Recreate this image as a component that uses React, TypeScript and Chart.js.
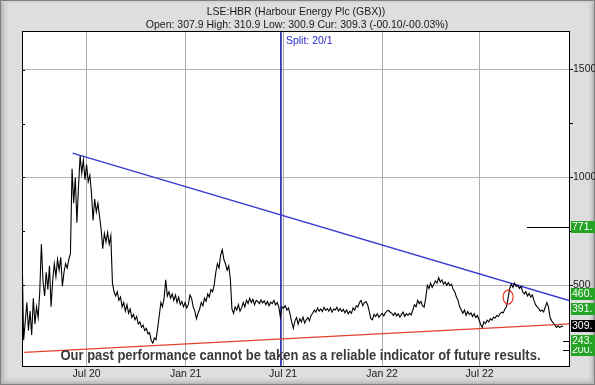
import React, { useEffect, useRef } from 'react';
import { Chart, registerables } from 'chart.js';

Chart.register(...registerables);

const TITLE = 'LSE:HBR (Harbour Energy Plc (GBX))';
const SUBTITLE = 'Open: 307.9 High: 310.9 Low: 300.9 Cur: 309.3 (-00.10/-00.03%)';
const DISCLAIMER = 'Our past performance cannot be taken as a reliable indicator of future results.';

// x axis: days since 2020-01-01
const X_MIN = 62;
const X_MAX = 1080;
const xTickDays = [182, 366, 547, 731, 912];
const xTickLabels = ['Jul 20', 'Jan 21', 'Jul 21', 'Jan 22', 'Jul 22'];

const Y_MIN = 125.6;
const Y_MAX = 1679;
const yLabelTicks = [500, 1000, 1500];
const yMinorTicks = [750, 1250];

// price series, one value every 3 days from priceStartDay
const priceStartDay = 62;
const priceStepDays = 3;
const prices = [
  680, 245, 330, 420, 290, 380, 270, 440, 320, 400,
  350, 470, 690, 520, 450, 560, 480, 590, 400, 520,
  600, 540, 620, 570, 630, 495, 560, 600, 580, 620,
  648, 1040, 880, 1000, 790, 960, 1100, 1020, 1080, 990,
  1060, 980, 1010, 930, 800, 900, 840, 880, 820, 760,
  670, 740, 700, 745, 690, 730, 510, 470, 450, 470,
  430, 445, 400, 420, 380, 410, 370, 390, 350, 365,
  340, 355, 320, 330, 305, 315, 290, 300, 275, 280,
  245, 232, 255, 248, 300, 360, 420, 400, 440, 525,
  450, 470, 440, 460, 430, 455, 420, 445, 410, 425,
  400, 420, 395, 410, 455, 440, 400, 380, 345, 370,
  390, 420, 405, 440, 425, 460, 445, 480, 470, 500,
  560, 600, 580, 640, 665, 620, 600, 570, 590, 530,
  390, 370, 400, 385, 410, 380, 395, 420, 400, 430,
  415, 440, 420, 435, 410, 430, 425, 415, 432, 418,
  428, 410, 425, 405, 422, 415, 430, 408, 420, 400,
  352, 400, 395, 405, 385, 395, 365, 330, 300, 335,
  350, 320, 345, 330, 352, 325, 340, 350, 335, 360,
  370, 385, 375, 395, 380, 390, 378, 398, 384, 392,
  380, 395, 375, 390, 385, 398, 380, 392, 378, 388,
  372, 385, 368, 380, 370, 395, 385, 405, 400, 420,
  430, 405, 420, 425, 410, 380, 345, 340, 365, 355,
  368, 352, 362, 370, 358, 372, 380, 384, 375, 370,
  360, 372, 358, 368, 352, 365, 375, 355, 368, 360,
  370, 362, 385, 410, 400, 430, 415, 425, 405, 398,
  440, 500, 485, 510, 490, 505, 520, 510, 535, 515,
  525, 505, 515, 500, 512, 498, 505, 480, 470, 445,
  430, 400, 385, 370, 385, 360, 378, 365, 372, 355,
  368, 350, 360, 340, 318, 305, 330, 322, 338, 330,
  345, 338, 352, 348, 360, 355, 368, 375, 372, 390,
  400, 440, 485, 505, 490, 510, 495, 500, 485, 495,
  470, 460, 470, 450, 462, 445, 455, 430, 410, 400,
  392, 380, 385, 376, 398, 420, 400, 350, 335, 325,
  315, 305, 312, 304, 311, 309,
];

const blueTrendDays = [156, 1080];
const blueTrendValues = [1113, 428];
const redTrendDays = [66, 1080];
const redTrendValues = [189, 321];

const splitDay = 543;
const splitLabel = 'Split: 20/1';

const circleDay = 965;
const circleValue = 445;

const levelValues = [771, 200, 243, 309, 391, 460];
const levelLabels = ['771.', '200.', '243.', '309.', '391.', '460.'];
const levelFills = ['#24a324', '#24a324', '#24a324', '#000000', '#24a324', '#24a324'];
const levelLineStartDays = [1000, 1067, 1067, null, null, null];

const FONT = '"Liberation Sans", Arial, sans-serif';

const decorPlugin = {
  id: 'decor',
  beforeDraw(chart: any) {
    const { ctx, chartArea: a, width: W, height: H } = chart;
    ctx.save();
    ctx.fillStyle = '#dedede';
    ctx.fillRect(0, 0, W, H);
    let g = ctx.createLinearGradient(0, 0, 10, 0);
    g.addColorStop(0, '#a8a8a8');
    g.addColorStop(1, 'rgba(222,222,222,0)');
    ctx.fillStyle = g;
    ctx.fillRect(0, 0, 10, H);
    g = ctx.createLinearGradient(W - 8, 0, W, 0);
    g.addColorStop(0, 'rgba(222,222,222,0)');
    g.addColorStop(1, '#a0a0a0');
    ctx.fillStyle = g;
    ctx.fillRect(W - 8, 0, 8, H);
    g = ctx.createLinearGradient(0, H - 9, 0, H);
    g.addColorStop(0, 'rgba(222,222,222,0)');
    g.addColorStop(1, '#a8a8a8');
    ctx.fillStyle = g;
    ctx.fillRect(0, H - 9, W, 9);
    g = ctx.createLinearGradient(0, 0, 0, 5);
    g.addColorStop(0, '#c4c4c4');
    g.addColorStop(1, 'rgba(222,222,222,0)');
    ctx.fillStyle = g;
    ctx.fillRect(0, 0, W, 5);
    ctx.strokeStyle = '#808080';
    ctx.lineWidth = 1;
    ctx.strokeRect(0.5, 0.5, W - 1, H - 1);
    ctx.fillStyle = '#ffffff';
    ctx.fillRect(a.left, a.top, a.right - a.left, a.bottom - a.top);
    ctx.restore();
  },
  afterDatasetsDraw(chart: any) {
    const { ctx, scales } = chart;
    const xs = scales.x;
    const ys = scales.y;
    ctx.save();
    ctx.strokeStyle = '#e0352a';
    ctx.lineWidth = 1.2;
    ctx.beginPath();
    ctx.ellipse(xs.getPixelForValue(circleDay), ys.getPixelForValue(circleValue), 5, 7, 0, 0, Math.PI * 2);
    ctx.stroke();
    ctx.fillStyle = '#2a2ac8';
    ctx.font = `10.5px ${FONT}`;
    ctx.textAlign = 'left';
    ctx.textBaseline = 'middle';
    ctx.fillText(splitLabel, xs.getPixelForValue(splitDay) + 5, chart.chartArea.top + 10);
    ctx.restore();
  },
  afterDraw(chart: any) {
    const { ctx, chartArea: a, scales, width: W } = chart;
    const xs = scales.x;
    const ys = scales.y;
    ctx.save();
    ctx.strokeStyle = '#000';
    ctx.lineWidth = 1;
    ctx.strokeRect(a.left + 0.5, a.top + 0.5, a.right - a.left - 1, a.bottom - a.top);
    ctx.beginPath();
    [...yLabelTicks, ...yMinorTicks].forEach((v) => {
      const y = Math.round(ys.getPixelForValue(v)) + 0.5;
      ctx.moveTo(a.left, y);
      ctx.lineTo(a.left + 3, y);
    });
    ctx.stroke();
    levelValues.forEach((v, i) => {
      const y = ys.getPixelForValue(v);
      const sd = levelLineStartDays[i];
      if (sd !== null) {
        ctx.strokeStyle = '#000';
        ctx.beginPath();
        ctx.moveTo(xs.getPixelForValue(sd), Math.round(y) + 0.5);
        ctx.lineTo(a.right, Math.round(y) + 0.5);
        ctx.stroke();
      }
      ctx.fillStyle = levelFills[i];
      ctx.fillRect(a.right + 1, Math.round(y) - 6, W - a.right - 1, 12);
      ctx.fillStyle = '#ffffff';
      ctx.font = `10.5px ${FONT}`;
      ctx.textAlign = 'left';
      ctx.textBaseline = 'middle';
      ctx.fillText(levelLabels[i], a.right + 2, Math.round(y) + 0.5);
    });
    ctx.fillStyle = '#1a1a1a';
    ctx.font = `10.5px ${FONT}`;
    ctx.textAlign = 'center';
    ctx.textBaseline = 'middle';
    ctx.fillText(TITLE, 296, 12);
    ctx.fillText(SUBTITLE, 297, 25);
    ctx.font = `bold 14px ${FONT}`;
    const w = ctx.measureText(DISCLAIMER).width;
    ctx.translate(300.5, 359.5);
    ctx.scale(480 / w, 1);
    ctx.fillStyle = '#3a3a3a';
    ctx.textAlign = 'center';
    ctx.textBaseline = 'alphabetic';
    ctx.fillText(DISCLAIMER, 0, 0);
    ctx.restore();
  },
};

export default function App() {
  const ref = useRef<HTMLCanvasElement | null>(null);
  useEffect(() => {
    if (!ref.current) return;
    const priceData = prices.map((v, i) => ({ x: priceStartDay + i * priceStepDays, y: v }));
    const chart = new Chart(ref.current, {
      type: 'line',
      data: {
        datasets: [
          { data: priceData, borderColor: '#000', borderWidth: 1.1, pointRadius: 0, tension: 0, order: 1 },
          {
            data: blueTrendDays.map((d, i) => ({ x: d, y: blueTrendValues[i] })),
            borderColor: '#3a3ad2',
            borderWidth: 1.3,
            pointRadius: 0,
            order: 2,
          },
          {
            data: redTrendDays.map((d, i) => ({ x: d, y: redTrendValues[i] })),
            borderColor: '#e0402e',
            borderWidth: 1.3,
            pointRadius: 0,
            order: 3,
          },
          {
            data: [
              { x: splitDay, y: Y_MIN },
              { x: splitDay, y: Y_MAX },
            ],
            borderColor: '#1e1ea8',
            borderWidth: 1.6,
            pointRadius: 0,
            order: 4,
          },
        ],
      },
      options: {
        responsive: false,
        animation: false,
        devicePixelRatio: 1,
        layout: { padding: { left: 22, top: 31, right: 0, bottom: 0 } },
        plugins: { legend: { display: false }, tooltip: { enabled: false }, title: { display: false } },
        scales: {
          x: {
            type: 'linear',
            min: X_MIN,
            max: X_MAX,
            afterBuildTicks: (s: any) => {
              s.ticks = xTickDays.map((v) => ({ value: v }));
            },
            afterFit: (s: any) => {
              s.height = 19;
            },
            ticks: {
              autoSkip: false,
              maxRotation: 0,
              padding: 2,
              color: '#1a1a1a',
              font: { size: 10.5, family: FONT },
              callback: (v: any) => {
                const i = xTickDays.indexOf(Number(v));
                return i >= 0 ? xTickLabels[i] : '';
              },
            },
            grid: { color: '#ababab', drawTicks: false, lineWidth: 1 },
            border: { display: false },
          },
          y: {
            type: 'linear',
            position: 'right',
            min: Y_MIN,
            max: Y_MAX,
            afterBuildTicks: (s: any) => {
              s.ticks = [...yLabelTicks, ...yMinorTicks].sort((p, q) => p - q).map((v) => ({ value: v }));
            },
            afterFit: (s: any) => {
              s.width = 25;
            },
            ticks: {
              padding: 0,
              color: '#1a1a1a',
              font: { size: 10.5, family: FONT },
              callback: (v: any) => (yLabelTicks.includes(Number(v)) ? String(v) : ''),
            },
            grid: {
              color: (c: any) => (yLabelTicks.includes(c.tick && c.tick.value) ? '#b4b4b4' : 'rgba(0,0,0,0)'),
              tickColor: '#000',
              tickLength: 3,
              lineWidth: 1,
            },
            border: { display: false },
          },
        },
      },
      plugins: [decorPlugin],
    } as any);
    return () => chart.destroy();
  }, []);
  return (
    <div style={{ position: 'fixed', left: 0, top: 0, width: 595, height: 385 }}>
      <canvas ref={ref} width={595} height={385} style={{ display: 'block' }} />
    </div>
  );
}
